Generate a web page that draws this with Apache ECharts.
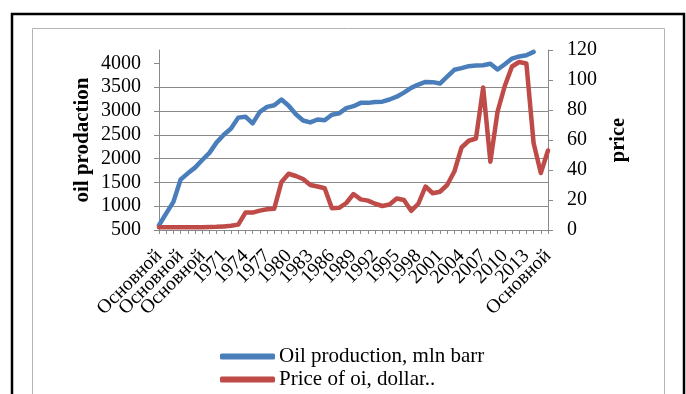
<!DOCTYPE html>
<html>
<head>
<meta charset="utf-8">
<script src="https://cdn.jsdelivr.net/npm/echarts@6/dist/echarts.min.js"></script>
<style>
  html, body { margin: 0; padding: 0; background: #fff; }
  #chart { width: 686px; height: 394px; }
</style>
</head>
<body>
<div id="chart"></div>
<script>
// Category labels along the time axis
const categories = [
  'Основной', 'Основной', 'Основной', 'Основной', 'Основной', 'Основной', 'Основной', 'Основной', 'Основной',
  '1971', '1972', '1973', '1974', '1975', '1976', '1977', '1978', '1979', '1980',
  '1981', '1982', '1983', '1984', '1985', '1986', '1987', '1988', '1989', '1990',
  '1991', '1992', '1993', '1994', '1995', '1996', '1997', '1998', '1999', '2000',
  '2001', '2002', '2003', '2004', '2005', '2006', '2007', '2008', '2009', '2010',
  '2011', '2012', '2013', '2014', '2015', 'Основной'
];

// Oil production, mln barrels (left axis)
const oilProduction = [
  600, 850, 1090, 1560, 1690, 1810, 1970, 2120, 2340, 2500,
  2630, 2860, 2880, 2740, 2980, 3085, 3120, 3240, 3110, 2930,
  2800, 2760, 2820, 2806, 2920, 2950, 3060, 3100, 3170, 3170,
  3190, 3195, 3240, 3300, 3385, 3485, 3555, 3610, 3605, 3575,
  3720, 3865, 3900, 3940, 3955, 3960, 3990, 3870, 3980, 4100,
  4145, 4170, 4240, null, null
];

// Oil price, dollars (right axis)
const oilPrice = [
  1.9, 1.9, 1.9, 1.9, 1.9, 1.9, 1.9, 2.0, 2.1, 2.4,
  2.8, 3.6, 11.6, 11.6, 12.9, 13.8, 14.2, 32, 37.5, 36,
  34, 30, 29, 27.8, 14.5, 14.8, 18, 24, 20.4, 19.6,
  17.5, 16, 17, 21, 20, 12.8, 17.5, 29, 24.5, 25.5,
  30, 39, 55, 59.5, 61, 95, 45.5, 79, 96, 109,
  112, 111, 58, 38, 53
];

// Axis tick labels
const productionTicks = [500, 1000, 1500, 2000, 2500, 3000, 3500, 4000];
const priceTicks = [0, 20, 40, 60, 80, 100, 120];
const categoryLabelStep = 3;

const seriesNames = ['Oil production, mln barr', 'Price of oi, dollar..'];
const colors = ['#4a7ebb', '#be4b48'];

const FONT = '"Liberation Serif", "Times New Roman", serif';
const GRID = '#8a8a8a';

// One legend block per row, stacked under the plot
function legendRow(name, top) {
  return {
    left: 220,
    top: top,
    padding: 0,
    itemWidth: 55,
    itemHeight: 6,
    itemGap: 0,
    icon: 'roundRect',
    textStyle: { fontFamily: FONT, fontSize: 21, color: '#000', padding: [0, 0, 0, -1] },
    data: [name]
  };
}

const chart = echarts.init(document.getElementById('chart'), null, { renderer: 'canvas' });

chart.setOption({
  backgroundColor: '#ffffff',
  animation: false,
  graphic: [
    {
      type: 'rect',
      shape: { x: 12, y: 14, width: 672, height: 420 },
      style: { fill: 'none', stroke: '#000', lineWidth: 2.5 },
      silent: true
    },
    {
      type: 'rect',
      shape: { x: 32.5, y: 28.5, width: 632, height: 400 },
      style: { fill: 'none', stroke: '#b4b4b4', lineWidth: 1 },
      silent: true
    }
  ],
  grid: { left: 159, right: 138, top: 50, bottom: 164, containLabel: false },
  legend: [
    legendRow(seriesNames[0], 346),
    legendRow(seriesNames[1], 369)
  ],
  xAxis: {
    type: 'category',
    data: categories,
    boundaryGap: false,
    axisLine: { show: true, lineStyle: { color: GRID, width: 1 } },
    axisTick: { show: true, interval: 0, length: 4, lineStyle: { color: GRID } },
    axisLabel: {
      interval: 0,
      rotate: 45,
      margin: 23,
      hideOverlap: false,
      formatter: (value, index) => (index % categoryLabelStep === 0 ? value : ''),
      fontFamily: FONT,
      fontSize: 19.5,
      color: '#000'
    },
    splitLine: { show: false }
  },
  yAxis: [
    {
      type: 'value',
      min: 500,
      max: 4280,
      interval: 500,
      position: 'left',
      name: 'oil prodaction',
      nameLocation: 'middle',
      nameGap: 66,
      nameMoveOverlap: false,
      nameTextStyle: { fontFamily: FONT, fontSize: 21, fontWeight: 'bold', color: '#000' },
      axisLine: { show: true, lineStyle: { color: GRID, width: 1 } },
      axisTick: { show: true, length: 5, customValues: productionTicks, lineStyle: { color: GRID } },
      axisLabel: {
        margin: 18,
        customValues: productionTicks,
        formatter: v => String(v),
        fontFamily: FONT,
        fontSize: 20,
        color: '#000'
      },
      splitLine: { show: true, showMaxLine: false, lineStyle: { color: GRID, width: 1 } }
    },
    {
      type: 'value',
      min: 0,
      max: 120,
      interval: 20,
      position: 'right',
      name: 'price',
      nameLocation: 'middle',
      nameGap: 60,
      nameMoveOverlap: false,
      nameTextStyle: { fontFamily: FONT, fontSize: 20.5, fontWeight: 'bold', color: '#000' },
      axisLine: { show: true, lineStyle: { color: GRID, width: 1 } },
      axisTick: { show: true, length: 5, customValues: priceTicks, lineStyle: { color: GRID } },
      axisLabel: {
        margin: 19,
        customValues: priceTicks,
        formatter: v => String(v),
        fontFamily: FONT,
        fontSize: 20,
        color: '#000'
      },
      splitLine: { show: false }
    }
  ],
  series: [
    {
      name: seriesNames[0],
      type: 'line',
      yAxisIndex: 0,
      data: oilProduction,
      showSymbol: false,
      symbol: 'none',
      connectNulls: false,
      itemStyle: { color: colors[0] },
      lineStyle: { color: colors[0], width: 4.5, cap: 'round', join: 'round' }
    },
    {
      name: seriesNames[1],
      type: 'line',
      yAxisIndex: 1,
      data: oilPrice,
      showSymbol: false,
      symbol: 'none',
      itemStyle: { color: colors[1] },
      lineStyle: { color: colors[1], width: 4.5, cap: 'round', join: 'round' }
    }
  ]
});
</script>
</body>
</html>
